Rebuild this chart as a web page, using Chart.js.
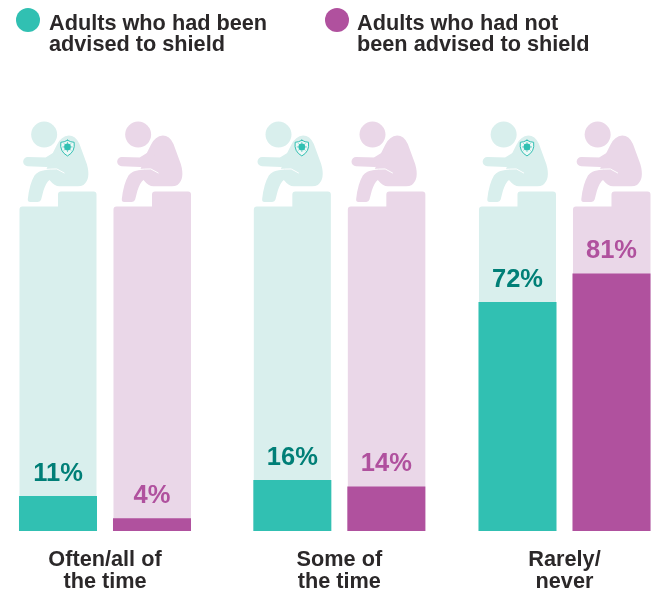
<!DOCTYPE html>
<html>
<head>
<meta charset="utf-8">
<script src="https://cdn.jsdelivr.net/npm/chart.js@4"></script>
<style>
  html, body { margin: 0; padding: 0; background: #fff; }
  canvas { display: block; }
</style>
</head>
<body>
<canvas id="chart" width="654" height="589"></canvas>
<script>
const categories = [['Often/all of', 'the time'], ['Some of', 'the time'], ['Rarely/', 'never']];
const advisedLabel = ['Adults who had been', 'advised to shield'];
const notAdvisedLabel = ['Adults who had not', 'been advised to shield'];
const advisedValues = [11, 16, 72];
const notAdvisedValues = [4, 14, 81];

// middle group sits slightly right of the even spacing in the original
const groupPositions = [0, 1.02, 2];
const trackTop = 102; // the pale column ends just above 100 on the original's scale

const colors = {
    advised: '#31c0b2',
    advisedPale: '#d9efed',
    advisedText: '#007f77',
    notAdvised: '#b0519e',
    notAdvisedPale: '#ead7e8',
    notAdvisedText: '#b0519e',
    text: '#2b2829'
};

const fontFamily = '"Liberation Sans", Arial, sans-serif';
const legendSpots = [{ x: 28, text: 49 }, { x: 337, text: 357 }];

function toPoints(values) {
    return values.map((v, i) => ({ x: groupPositions[i], y: v }));
}

// person sitting on the step, outline traced in 3x px from the column's top left
function drawPerson(ctx, fill, withShield) {
    ctx.fillStyle = fill;
    ctx.strokeStyle = fill;

    ctx.beginPath();
    ctx.arc(74, -216, 39, 0, Math.PI * 2);
    ctx.fill();

    ctx.beginPath();
    ctx.moveTo(100, -161);
    ctx.lineTo(112, -185);
    ctx.quadraticCurveTo(125, -211, 148, -213);
    ctx.quadraticCurveTo(168, -213, 180, -188);
    ctx.lineTo(202, -128);
    ctx.quadraticCurveTo(215, -83, 192, -65);
    ctx.quadraticCurveTo(185, -61, 175, -61);
    ctx.lineTo(120, -61);
    ctx.quadraticCurveTo(105, -61, 90, -80);
    ctx.quadraticCurveTo(80, -73, 72, -48);
    ctx.lineTo(65, -21);
    ctx.quadraticCurveTo(63, -14, 55, -14);
    ctx.lineTo(32, -14);
    ctx.quadraticCurveTo(24, -14, 25, -23);
    ctx.quadraticCurveTo(30, -68, 45, -93);
    ctx.quadraticCurveTo(55, -108, 80, -110);
    ctx.closePath();
    ctx.fill();

    ctx.lineCap = 'round';
    ctx.lineJoin = 'round';
    ctx.lineWidth = 28;
    ctx.beginPath();
    ctx.moveTo(25, -135);
    ctx.lineTo(82, -133);
    ctx.lineTo(110, -150);
    ctx.stroke();

    // thin gap between forearm and thigh
    ctx.strokeStyle = '#fff';
    ctx.lineWidth = 3;
    ctx.beginPath();
    ctx.moveTo(50, -106);
    ctx.quadraticCurveTo(70, -113, 112, -113);
    ctx.lineTo(134, -101);
    ctx.stroke();

    if (withShield) drawShield(ctx);
}

function drawShield(ctx) {
    ctx.save();
    ctx.translate(144, -179);
    ctx.fillStyle = '#eef8f7';
    ctx.strokeStyle = colors.advised;
    ctx.lineWidth = 3;
    ctx.beginPath();
    ctx.moveTo(0, -20);
    ctx.quadraticCurveTo(10, -14, 20, -14);
    ctx.quadraticCurveTo(24, 14, 0, 27);
    ctx.quadraticCurveTo(-24, 14, -20, -14);
    ctx.quadraticCurveTo(-10, -14, 0, -20);
    ctx.closePath();
    ctx.fill();
    ctx.stroke();

    ctx.fillStyle = colors.advised;
    ctx.beginPath();
    ctx.arc(0, 0, 10, 0, Math.PI * 2);
    ctx.fill();
    ctx.lineWidth = 2;
    for (let i = 0; i < 8; i++) {
        const a = i * Math.PI / 4;
        ctx.beginPath();
        ctx.moveTo(Math.cos(a) * 9, Math.sin(a) * 9);
        ctx.lineTo(Math.cos(a) * 14, Math.sin(a) * 14);
        ctx.stroke();
    }
    ctx.restore();
}

function drawTrack(ctx, left, right, top, bottom, fill) {
    const r = 3;
    const stepX = left + 38.5;
    const stepTop = top - 15;
    ctx.fillStyle = fill;
    ctx.beginPath();
    ctx.moveTo(left, bottom);
    ctx.lineTo(left, top + r);
    ctx.quadraticCurveTo(left, top, left + r, top);
    ctx.lineTo(stepX, top);
    ctx.lineTo(stepX, stepTop + r);
    ctx.quadraticCurveTo(stepX, stepTop, stepX + r, stepTop);
    ctx.lineTo(right - r, stepTop);
    ctx.quadraticCurveTo(right, stepTop, right, stepTop + r);
    ctx.lineTo(right, bottom);
    ctx.closePath();
    ctx.fill();
}

const shieldTrackPlugin = {
    id: 'shieldTrack',
    beforeDatasetsDraw(chart) {
        const ctx = chart.ctx;
        const y = chart.scales.y;
        const top = y.getPixelForValue(trackTop);
        const bottom = y.getPixelForValue(0);
        chart.data.datasets.forEach((ds, d) => {
            chart.getDatasetMeta(d).data.forEach(bar => {
                const left = bar.x - bar.width / 2 + 0.5;
                drawTrack(ctx, left, bar.x + bar.width / 2 - (d === 0 ? 0.5 : 0), top, bottom, ds.paleColor);
                ctx.save();
                ctx.translate(left, top);
                ctx.scale(1 / 3, 1 / 3);
                drawPerson(ctx, ds.paleColor, d === 0);
                ctx.restore();
            });
        });
    },
    afterDatasetsDraw(chart) {
        const ctx = chart.ctx;
        ctx.save();
        ctx.font = 'bold 25.5px ' + fontFamily;
        ctx.textAlign = 'center';
        ctx.textBaseline = 'alphabetic';
        chart.data.datasets.forEach((ds, d) => {
            ctx.fillStyle = ds.valueColor;
            chart.getDatasetMeta(d).data.forEach((bar, i) => {
                ctx.fillText(ds.data[i].y + '%', bar.x, bar.y - 15);
            });
        });
        ctx.restore();

        // legend: two-line labels don't fit the built-in one
        ctx.save();
        ctx.font = 'bold 21.7px ' + fontFamily;
        ctx.textAlign = 'left';
        ctx.textBaseline = 'alphabetic';
        chart.data.datasets.forEach((ds, d) => {
            const spot = legendSpots[d];
            ctx.fillStyle = ds.backgroundColor;
            ctx.beginPath();
            ctx.arc(spot.x, 20, 12, 0, Math.PI * 2);
            ctx.fill();
            ctx.fillStyle = colors.text;
            ds.label.forEach((line, l) => {
                ctx.fillText(line, spot.text, 30 + l * 21);
            });
        });
        ctx.restore();
    }
};

new Chart(document.getElementById('chart').getContext('2d'), {
    type: 'bar',
    data: {
        datasets: [
            {
                label: advisedLabel,
                data: toPoints(advisedValues),
                backgroundColor: colors.advised,
                paleColor: colors.advisedPale,
                valueColor: colors.advisedText,
                borderWidth: 0
            },
            {
                label: notAdvisedLabel,
                data: toPoints(notAdvisedValues),
                backgroundColor: colors.notAdvised,
                paleColor: colors.notAdvisedPale,
                valueColor: colors.notAdvisedText,
                borderWidth: 0
            }
        ]
    },
    options: {
        responsive: false,
        animation: false,
        devicePixelRatio: 1,
        categoryPercentage: 0.835,
        barPercentage: 0.83,
        layout: { padding: { top: 60 } },
        plugins: {
            tooltip: { enabled: false },
            legend: { display: false }
        },
        scales: {
            x: {
                type: 'linear',
                offset: false,
                min: -0.457,
                max: 2.3896,
                grid: { display: false },
                border: { display: false },
                afterBuildTicks(scale) {
                    scale.ticks = groupPositions.map(v => ({ value: v }));
                },
                afterFit(scale) {
                    scale.height = 58;
                },
                ticks: {
                    autoSkip: false,
                    maxRotation: 0,
                    padding: 10,
                    color: colors.text,
                    font: { family: fontFamily, size: 21.7, weight: 'bold', lineHeight: 1.02 },
                    callback(value, index) {
                        return categories[index];
                    }
                }
            },
            y: {
                display: false,
                min: 0,
                max: 148.1
            }
        }
    },
    plugins: [shieldTrackPlugin]
});
</script>
</body>
</html>
